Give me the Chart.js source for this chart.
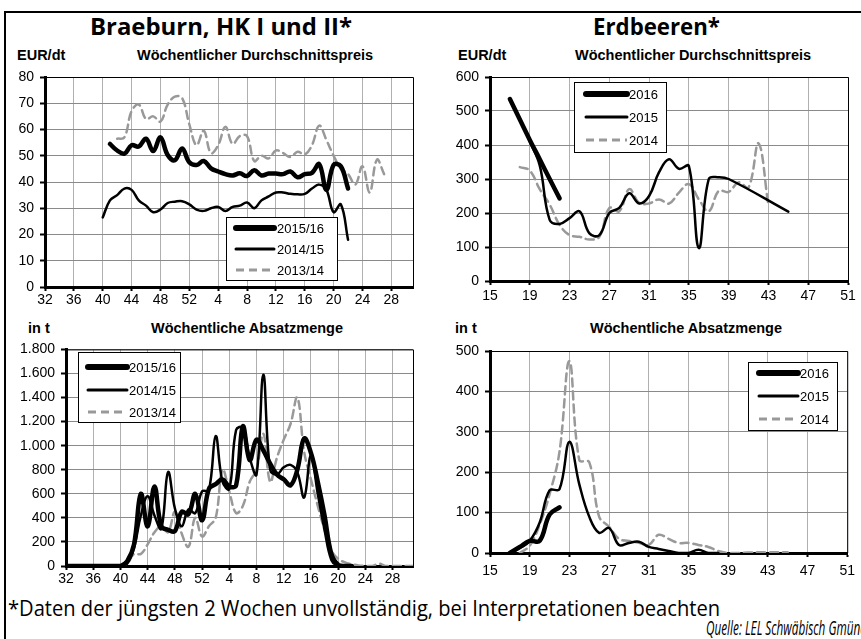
<!DOCTYPE html>
<html><head><meta charset="utf-8">
<script src="https://cdn.jsdelivr.net/npm/chart.js@4.4.1/dist/chart.umd.min.js"></script>
<style>
html,body{margin:0;padding:0;background:#fff;}
body{width:861px;height:639px;overflow:hidden;position:relative;font-family:"Liberation Sans",Arial,sans-serif;}
.frame{position:absolute;left:4px;top:11px;width:900px;height:700px;border:2px solid #000;box-sizing:border-box;}
.t{position:absolute;white-space:nowrap;color:#000;}
.big{font-family:"Open Sans",sans-serif;font-weight:700;font-size:24px;line-height:24px;transform-origin:0 0;}
.lbl{font-weight:bold;font-size:14.5px;line-height:16px;}
.c{transform:translateX(-50%);}
.foot{font-family:"Open Sans",sans-serif;font-weight:400;font-size:21px;line-height:21px;transform-origin:0 0;}
.quelle{font-family:"Open Sans",sans-serif;font-style:italic;font-size:20px;line-height:20px;transform-origin:0 0;}
canvas{position:absolute;}
</style>
</head><body>
<div class="frame"></div>
<div class="t big fit" data-w="262" style="left:90px;top:14px">Braeburn, HK I und II*</div>
<div class="t big fit" data-w="127" style="left:593px;top:14px">Erdbeeren*</div>
<div class="t lbl" style="left:17px;top:47px">EUR/dt</div>
<div class="t lbl c" style="left:255px;top:47px">Wöchentlicher Durchschnittspreis</div>
<div class="t lbl" style="left:458px;top:47px">EUR/dt</div>
<div class="t lbl c" style="left:693px;top:47px">Wöchentlicher Durchschnittspreis</div>
<div class="t lbl" style="left:28px;top:320px">in t</div>
<div class="t lbl c" style="left:247px;top:320px">Wöchentliche Absatzmenge</div>
<div class="t lbl" style="left:455px;top:320px">in t</div>
<div class="t lbl c" style="left:686px;top:320px">Wöchentliche Absatzmenge</div>
<canvas id="cA" width="425" height="250" style="left:0;top:60px"></canvas>
<canvas id="cB" width="431" height="250" style="left:430px;top:60px"></canvas>
<canvas id="cC" width="425" height="255" style="left:0;top:335px"></canvas>
<canvas id="cD" width="431" height="255" style="left:430px;top:335px"></canvas>
<div class="t foot fit" data-w="712" style="left:8px;top:598px">*Daten der jüngsten 2 Wochen unvollständig, bei Interpretationen beachten</div>
<div class="t quelle fit" data-w="161" style="left:706px;top:618px">Quelle: LEL Schwäbisch Gmünd</div>
<script>
// ---------- DATA ----------
const appleWeeks = [32,33,34,35,36,37,38,39,40,41,42,43,44,45,46,47,48,49,50,51,52,
  1,2,3,4,5,6,7,8,9,10,11,12,13,14,15,16,17,18,19,20,21,22,23,24,25,26,27,28,29,30,31];
const appleSeriesLabels = ['2015/16','2014/15','2013/14'];
const applePrice1516 = [null,null,null,null,null,null,null,null,null,
  54.5,52,50.8,54,53.5,56.5,51.8,57,50.3,48.3,52.8,47.5,
  46.5,48,45.2,44,43,42.5,43.3,42.3,44.5,42.5,43.2,43.2,43,44,41.8,43,43.5,46.8,37,46.5,46,37.5,
  null,null,null,null,null,null,null,null,null];
const applePrice1415 = [null,null,null,null,null,null,null,null,
  26.5,33,35,37.5,37,33,31,28.5,29.5,32,32.5,32.7,31.5,
  29.5,29,30,30.5,29,30.5,31,32.2,30,33,34.5,36,36,35.5,35.3,35.5,37.5,39,37,28.5,31.5,18,
  null,null,null,null,null,null,null,null,null];
const applePrice1314 = [null,null,null,null,null,null,null,null,null,null,
  56.5,57,67,69.5,64,65,63,69.5,72.5,72,62,
  54,59.5,51,54,61,54.5,57.5,57.5,48,50,49,52,51,49.5,51.5,50.5,54,61.5,56,50,45,43,39,46,36,48.5,43,
  null,null,null,null];
const appleVol1516 = [0,0,0,0,0,0,0,0,0,
  40,180,600,330,660,330,300,290,450,430,600,380,
  640,680,720,660,670,1160,880,1050,960,850,760,720,670,800,1060,940,700,420,100,10,0,0,
  null,null,null,null,null,null,null,null,null];
const appleVol1415 = [0,0,0,0,0,0,0,0,0,
  20,150,420,580,420,310,780,480,330,470,440,620,
  630,1080,700,640,1130,1150,900,760,1590,800,760,820,840,780,570,920,600,300,50,0,0,
  null,null,null,null,null,null,null,null,null,null];
const appleVol1314 = [0,0,0,0,0,0,0,0,0,
  20,100,100,180,280,330,280,450,270,160,400,245,
  330,400,800,620,440,500,700,800,1100,700,900,1050,1180,1400,950,720,500,300,130,60,30,15,5,0,0,20,0,0,0,0,0];

const berryWeeks = [15,16,17,18,19,20,21,22,23,24,25,26,27,28,29,30,31,32,33,34,35,36,37,38,39,40,41,42,43,44,45,46,47,48,49,50,51];
const berrySeriesLabels = ['2016','2015','2014'];
const berryPrice2016 = [null,null,535,475,415,358,300,243,
  null,null,null,null,null,null,null,null,null,null,null,null,null,null,null,null,null,null,null,null,null,null,null,null,null,null,null,null,null];
const berryPrice2015 = [null,null,null,null,
  410,340,180,168,185,205,140,135,200,215,258,228,250,320,358,330,338,97,300,305,300,
  null,null,null,null,null,204,null,null,null,null,null,null];
const berryPrice2014 = [null,null,null,
  335,325,270,225,165,135,130,122,130,215,205,270,230,228,240,228,260,285,240,205,265,262,290,275,405,220,
  null,null,null,null,null,null,null,null];
const berryVol2016 = [null,null,0,15,30,30,95,113,
  null,null,null,null,null,null,null,null,null,null,null,null,null,null,null,null,null,null,null,null,null,null,null,null,null,null,null,null,null];
const berryVol2015 = [null,null,
  0,12,30,75,155,158,275,170,90,50,62,20,25,28,15,10,5,0,0,8,0,0,
  null,null,null,null,null,null,null,null,null,null,null,null,null];
const berryVol2014 = [null,null,null,
  0,18,70,145,250,475,230,225,90,65,35,30,25,20,45,35,25,25,20,15,5,0,0,1,2,2,2,2,
  null,null,null,null,null,null];

const appleTickLabels = {priceMax:80, priceStep:10, volMax:1800, volStep:200};
const berryTickLabels = {priceMax:600, priceStep:100, volMax:500, volStep:100};

// ---------- RENDERING ----------
const FONT = '"Liberation Sans", Arial, sans-serif';
Chart.defaults.font.family = FONT;
Chart.defaults.color = '#000';

const STY = [
  {borderColor:'#000', borderWidth:4.5, legendWidth:6, dash:[]},
  {borderColor:'#000', borderWidth:2.5, legendWidth:3, dash:[]},
  {borderColor:'#999', borderWidth:2.5, legendWidth:3, dash:[8,5]}
];

function ds(label, xs, ys, k, span){
  return {label, data: xs.map((x,i)=>({x, y: ys[i]})), borderColor:STY[k].borderColor,
    borderWidth:STY[k].borderWidth, borderDash:STY[k].dash, legendWidth:STY[k].legendWidth,
    pointRadius:0, tension:0.4, fill:false, spanGaps:!!span, borderCapStyle:'round', borderJoinStyle:'round'};
}

const frame = {
  id:'frame',
  beforeDatasetsDraw(chart){
    const a = chart.chartArea, c = chart.ctx;
    c.save(); c.strokeStyle='#000'; c.lineWidth=1;
    c.beginPath(); c.moveTo(a.left, a.top+0.5); c.lineTo(a.right+0.5, a.top+0.5); c.lineTo(a.right+0.5, a.bottom); c.stroke();
    c.restore();
  }
};
const boxLegend = {
  id:'boxLegend',
  afterDatasetsDraw(chart, args, o){
    const c = chart.ctx; c.save();
    c.fillStyle='#fff'; c.fillRect(o.x,o.y,o.w,o.h);
    c.strokeStyle='#000'; c.lineWidth=1; c.strokeRect(o.x+0.5,o.y+0.5,o.w,o.h);
    chart.data.datasets.forEach((d,i)=>{
      const y = o.rows[i];
      c.beginPath(); c.setLineDash(d.borderDash||[]);
      c.lineCap = (d.borderDash && d.borderDash.length) ? 'butt' : 'round';
      c.strokeStyle=d.borderColor; c.lineWidth=d.legendWidth;
      c.moveTo(o.x1,y); c.lineTo(o.x2,y); c.stroke();
      c.setLineDash([]);
      c.fillStyle='#000'; c.font='13px '+FONT; c.textBaseline='middle'; c.textAlign='left';
      c.fillText(d.label,o.tx,y+1);
    });
    c.restore();
  }
};
const deFmt = v => String(v).replace(/\B(?=(\d{3})+(?!\d))/g,'.');

function makeChart(id, datasets, o){
  return new Chart(document.getElementById(id), {
    type:'line',
    data:{datasets},
    options:{
      responsive:false, animation:false, events:[],
      layout:{padding:o.pad},
      plugins:{legend:{display:false}, tooltip:{enabled:false}, boxLegend:o.legend},
      scales:{
        x:{type:'linear', min:o.xmin, max:o.xmax,
          ticks:{stepSize:4, includeBounds:false, autoSkip:false, maxRotation:0, minRotation:0,
                 font:{size:14}, padding:o.xpad, callback:o.xcb},
          grid:{color:'#b0b0b0', lineWidth:1, drawTicks:true, tickLength:4, tickColor:'#000', tickWidth:2},
          border:{display:true, color:'#000', width:3},
          afterFit:s=>{s.height=o.xh;}},
        y:{min:0, max:o.ymax,
          ticks:{stepSize:o.ystep, font:{size:14}, padding:6, callback:o.ycb},
          grid:{color:'#8a8a8a', lineWidth:1, drawTicks:true, tickLength:5, tickColor:'#000', tickWidth:2},
          border:{display:true, color:'#000', width:3},
          afterFit:s=>{s.width=o.yw;}}
      }
    },
    plugins:[frame, boxLegend]
  });
}

const idx = appleWeeks.map((w,i)=>i);
const appleX = v => appleWeeks[v];

makeChart('cA', [
  ds(appleSeriesLabels[0], idx, applePrice1516, 0),
  ds(appleSeriesLabels[1], idx, applePrice1415, 1),
  ds(appleSeriesLabels[2], idx, applePrice1314, 2)
], {pad:{top:17,right:12,left:0,bottom:0}, xmin:0, xmax:appleWeeks.length-1, xcb:appleX, xh:23, yw:45, xpad:1,
    ymax:appleTickLabels.priceMax, ystep:appleTickLabels.priceStep, ycb:v=>v,
    legend:{x:226,y:157,w:111,h:63,rows:[168,189,210],x1:236,x2:274,tx:277}});

makeChart('cB', [
  ds(berrySeriesLabels[0], berryWeeks, berryPrice2016, 0),
  ds(berrySeriesLabels[1], berryWeeks, berryPrice2015, 1, true),
  ds(berrySeriesLabels[2], berryWeeks, berryPrice2014, 2)
], {pad:{top:17,right:13,left:0,bottom:0}, xmin:berryWeeks[0], xmax:berryWeeks[berryWeeks.length-1], xcb:v=>v, xh:29, yw:60, xpad:3,
    ymax:berryTickLabels.priceMax, ystep:berryTickLabels.priceStep, ycb:v=>v,
    legend:{x:144,y:22,w:92,h:70,rows:[34,57,80],x1:156,x2:197,tx:199}});

makeChart('cC', [
  ds(appleSeriesLabels[0], idx, appleVol1516, 0),
  ds(appleSeriesLabels[1], idx, appleVol1415, 1),
  ds(appleSeriesLabels[2], idx, appleVol1314, 2)
], {pad:{top:13,right:12,left:0,bottom:0}, xmin:0, xmax:appleWeeks.length-1, xcb:appleX, xh:24, yw:66, xpad:1,
    ymax:appleTickLabels.volMax, ystep:appleTickLabels.volStep, ycb:deFmt,
    legend:{x:78,y:17,w:102,h:70,rows:[32,55,77],x1:88,x2:127,tx:129}});

makeChart('cD', [
  ds(berrySeriesLabels[0], berryWeeks, berryVol2016, 0),
  ds(berrySeriesLabels[1], berryWeeks, berryVol2015, 1),
  ds(berrySeriesLabels[2], berryWeeks, berryVol2014, 2)
], {pad:{top:16,right:13,left:0,bottom:0}, xmin:berryWeeks[0], xmax:berryWeeks[berryWeeks.length-1], xcb:v=>v, xh:37, yw:60, xpad:6,
    ymax:berryTickLabels.volMax, ystep:berryTickLabels.volStep, ycb:v=>v,
    legend:{x:318,y:27,w:89,h:68,rows:[38,61,84],x1:329,x2:368,tx:370}});

function fit(){
  document.querySelectorAll('.fit').forEach(el=>{
    el.style.transform='none';
    const nat = el.getBoundingClientRect().width;
    el.style.transform = 'scaleX(' + (parseFloat(el.dataset.w)/nat) + ')';
  });
}
fit();
if (document.fonts && document.fonts.ready) document.fonts.ready.then(fit);
</script>
</body></html>
